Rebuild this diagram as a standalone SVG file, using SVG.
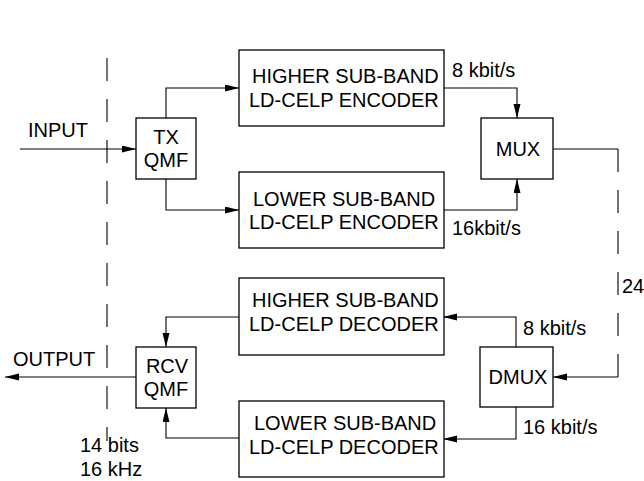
<svg xmlns="http://www.w3.org/2000/svg" width="644" height="481" viewBox="0 0 644 481">
<style>
text{font-family:"Liberation Sans",Arial,sans-serif;font-size:20px;fill:#000}
.box{fill:#fff;stroke:#000;stroke-width:1.3}
.c{text-anchor:middle}
.ln{fill:none;stroke:#000;stroke-width:1.1}
.dash{fill:none;stroke:#000;stroke-width:1.1;stroke-dasharray:23 18}
</style>
<defs>
<marker id="arr" markerUnits="userSpaceOnUse" markerWidth="15" markerHeight="8" refX="14" refY="3.5" orient="auto">
<path d="M0,0 L14,3.5 L0,7 z" fill="#000"/>
</marker>
</defs>
<g id="connectors">
<path class="dash" d="M107,58 V441"/>
<path class="ln" d="M20,149 H136" marker-end="url(#arr)"/>
<path class="ln" d="M166,118 V88 H239" marker-end="url(#arr)"/>
<path class="ln" d="M166,179 V210 H239" marker-end="url(#arr)"/>
<path class="ln" d="M444,88 H517 V118" marker-end="url(#arr)"/>
<path class="ln" d="M444,210 H517 V179" marker-end="url(#arr)"/>
<path class="ln" d="M553,149 H618"/>
<path class="dash" d="M618,149 V377"/>
<path class="ln" d="M618,377 H553" marker-end="url(#arr)"/>
<path class="ln" d="M516,347 V317 H443" marker-end="url(#arr)"/>
<path class="ln" d="M516,407 V439 H443" marker-end="url(#arr)"/>
<path class="ln" d="M239,317 H166 V347" marker-end="url(#arr)"/>
<path class="ln" d="M239,438 H166 V408" marker-end="url(#arr)"/>
<path class="ln" d="M136,377 H5" marker-end="url(#arr)"/>
</g>
<g id="labels">
<text x="28" y="137">INPUT</text>
<text x="13" y="366">OUTPUT</text>
<text x="80" y="452">14 bits</text>
<text x="80" y="476">16 kHz</text>
<text x="452" y="77">8 kbit/s</text>
<text x="452" y="235">16kbit/s</text>
<text x="622" y="293">24</text>
<text x="523" y="335">8 kbit/s</text>
<text x="523" y="434">16 kbit/s</text>
</g>
<g id="tx-qmf">
<rect class="box" x="136" y="118" width="60" height="61"/>
<text class="c" x="166" y="144">TX</text>
<text class="c" x="166" y="167">QMF</text>
</g>
<g id="rcv-qmf">
<rect class="box" x="136" y="347" width="60" height="61"/>
<text class="c" x="167" y="373">RCV</text>
<text class="c" x="166" y="396">QMF</text>
</g>
<g id="higher-encoder">
<rect class="box" x="239" y="50" width="205" height="76"/>
<text x="252" y="83">HIGHER SUB-BAND</text>
<text x="249" y="107">LD-CELP ENCODER</text>
</g>
<g id="lower-encoder">
<rect class="box" x="239" y="172" width="205" height="76"/>
<text x="253" y="206">LOWER SUB-BAND</text>
<text x="249" y="229">LD-CELP ENCODER</text>
</g>
<g id="mux">
<rect class="box" x="481" y="118" width="72" height="61"/>
<text class="c" x="518" y="156">MUX</text>
</g>
<g id="dmux">
<rect class="box" x="480" y="347" width="73" height="60"/>
<text class="c" x="518" y="384">DMUX</text>
</g>
<g id="higher-decoder">
<rect class="box" x="239" y="278" width="205" height="77"/>
<text x="252" y="307">HIGHER SUB-BAND</text>
<text x="249" y="331">LD-CELP DECODER</text>
</g>
<g id="lower-decoder">
<rect class="box" x="239" y="401" width="205" height="76"/>
<text x="254" y="430">LOWER SUB-BAND</text>
<text x="249" y="454">LD-CELP DECODER</text>
</g>
</svg>
